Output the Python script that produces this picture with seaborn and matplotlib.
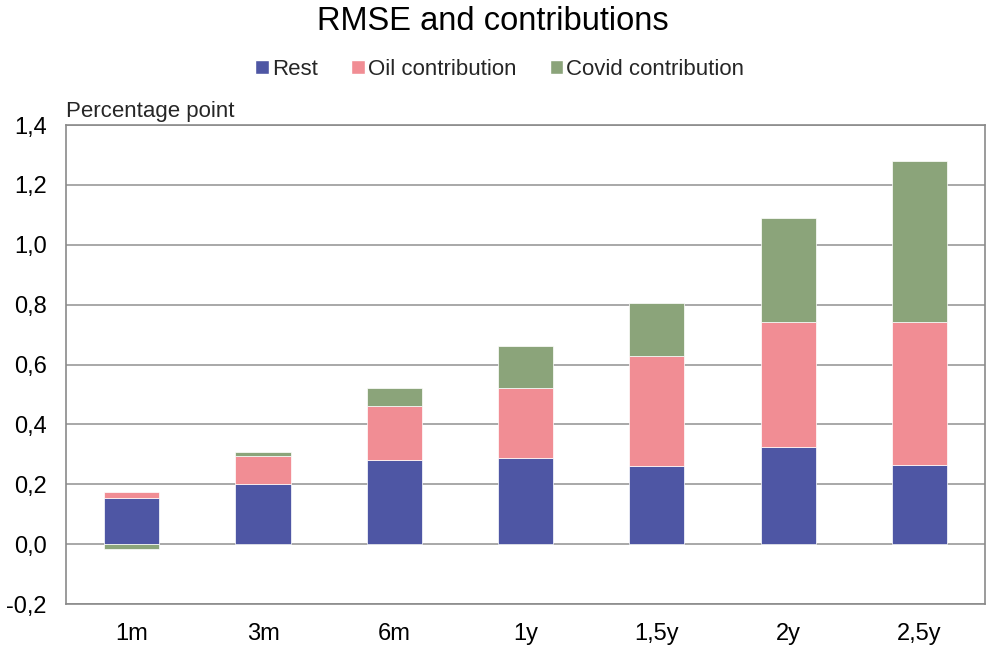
import matplotlib
matplotlib.use("Agg")
import matplotlib.pyplot as plt
import matplotlib.ticker as mticker
from matplotlib.patches import Patch
import seaborn as sns
import numpy as np

# data
horizons = ["1m", "3m", "6m", "1y", "1,5y", "2y", "2,5y"]
rest = [0.155, 0.200, 0.280, 0.287, 0.260, 0.323, 0.265]
oil = [0.018, 0.093, 0.180, 0.236, 0.370, 0.420, 0.478]
covid = [-0.017, 0.014, 0.060, 0.140, 0.177, 0.347, 0.537]

col_rest = "#4E56A4"
col_oil = "#F18D94"
col_covid = "#8BA47A"

sns.set_theme(style="white")
plt.rcParams["font.family"] = ["Liberation Sans", "DejaVu Sans"]

fig = plt.figure(figsize=(9.86, 6.46), dpi=100)
ax = fig.add_axes([0.067, 0.065, 0.932, 0.7415])

rest_a = np.array(rest)
oil_a = np.array(oil)
covid_a = np.array(covid)
covid_bottom = np.where(covid_a >= 0, rest_a + oil_a, 0)

w = 0.42
kw = dict(width=w, ax=ax, saturation=1, edgecolor="white", linewidth=0.5, zorder=3)
sns.barplot(x=horizons, y=rest, color=col_rest, **kw)
sns.barplot(x=horizons, y=oil, bottom=rest, color=col_oil, **kw)
sns.barplot(x=horizons, y=covid, bottom=covid_bottom, color=col_covid, **kw)

ax.set_xlim(-0.5, 6.5)
ax.set_ylim(-0.2, 1.4)
ax.set_yticks(np.arange(-0.2, 1.41, 0.2))
ax.yaxis.set_major_formatter(mticker.FuncFormatter(lambda v, p: f"{v:.1f}".replace(".", ",")))
ax.yaxis.grid(True, color="#9a9a9a", linewidth=1.2, zorder=0)
ax.set_axisbelow(True)
for s in ["left", "bottom", "top", "right"]:
    ax.spines[s].set_color("#8a8a8a")
    ax.spines[s].set_linewidth(1.2)
ax.tick_params(axis="both", labelsize=17, length=0, colors="black")
ax.tick_params(axis="x", pad=14)
ax.tick_params(axis="y", pad=14)
ax.set_xlabel("")
ax.set_ylabel("")

fig.text(0.067, 0.819, "Percentage point", fontsize=16, ha="left", va="baseline")
fig.suptitle("RMSE and contributions", fontsize=23.5, y=0.99, color="black")

handles = [Patch(facecolor=col_rest, label="Rest"),
           Patch(facecolor=col_oil, label="Oil contribution"),
           Patch(facecolor=col_covid, label="Covid contribution")]
fig.legend(handles=handles, loc="center", bbox_to_anchor=(0.507, 0.892), ncol=3,
           frameon=False, fontsize=16, handlelength=0.6, handleheight=0.6,
           handletextpad=0.15, columnspacing=1.5)

plt.savefig("out.png", dpi=100)
